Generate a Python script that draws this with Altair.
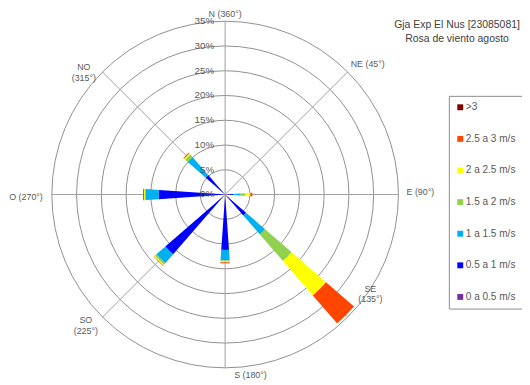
import math
import altair as alt
import pandas as pd

# ---------------- data ----------------
dir_angles = [90, 135, 180, 225, 270, 315]          # E, SE, S, SO, O, NO
speed_bins = ["0 a 0.5 m/s", "0.5 a 1 m/s", "1 a 1.5 m/s", "1.5 a 2 m/s",
              "2 a 2.5 m/s", "2.5 a 3 m/s", ">3"]
# frequency (%) of each speed class, per direction (same order as dir_angles)
f_0_05 = [0.5, 0.5, 1.0, 0.8, 0.5, 0.5]
f_05_1 = [1.1, 5.1, 10.2, 15.2, 12.9, 4.7]
f_1_15 = [1.4, 5.1, 2.1, 2.4, 2.6, 4.8]
f_15_2 = [1.0, 7.1, 0.2, 0.4, 0.2, 0.7]
f_2_25 = [1.1, 9.2, 0.2, 0.2, 0.2, 0.3]
f_25_3 = [0.4, 7.5, 0.2, 0.1, 0.2, 0.2]
f_gt3 = [0.0, 0.0, 0.0, 0.0, 0.0, 0.0]
bin_colors = ["#7030A0", "#0000FF", "#00B0F0", "#92D050", "#FFFF00", "#FF4500", "#7F0000"]

ring_pct = [0, 5, 10, 15, 20, 25, 30, 35]
ring_text = ["0%", "5%", "10%", "15%", "20%", "25%", "30%", "35%"]
spoke_angles = [0, 45, 90, 135, 180, 225, 270, 315]
compass_text = ["N (360°)", "NE (45°)", "E (90°)", "SE\n(135°)",
                "S (180°)", "SO\n(225°)", "O (270°)", "NO\n(315°)"]
title_lines = ["Gja Exp El Nus [23085081]", "Rosa de viento agosto"]

# ---------------- layout ----------------
W, H = 522, 377            # whole drawing area (page minus top/left margin)
CX, CY = 220.5, 186.5      # rose centre inside drawing area (px)
R = 176                    # px radius of the 35 % ring
RMAX = 35
UNIT = R / RMAX
HALF_W = 4                 # half angular width of a petal (deg)
# first-line positions of compass labels, px offsets from rose centre
compass_off = [(0, -183.5), (144.8, -132.8), (198.3, -2.2), (147.5, 95.5),
               (25.7, 183.5), (-141.5, 127.8), (-202.2, 2.5), (-143.5, -129.5)]
title_pos = (456, 14)      # px in drawing area (first line)

xdom = [-CX / UNIT, (W - CX) / UNIT]
ydom = [-(H - CY) / UNIT, CY / UNIT]
xs = alt.Scale(domain=xdom, nice=False, zero=False)
ys = alt.Scale(domain=ydom, nice=False, zero=False)
ts = alt.Scale(domain=[0, 360], range=[0, 2 * math.pi])
rs = alt.Scale(type="linear", domain=[0, RMAX], range=[0, R], zero=True, nice=False)

# ---------------- tables ----------------
series = [f_0_05, f_05_1, f_1_15, f_15_2, f_2_25, f_25_3, f_gt3]
rows = []
for i, a in enumerate(dir_angles):
    cum = 0.0
    for b, s in zip(speed_bins, series):
        v = s[i]
        if v > 0:
            rows.append(dict(cx=0, cy=0, t0=a - HALF_W, t1=a + HALF_W,
                             r_in=cum, r_out=cum + v, bin=b))
        cum += v
petals = pd.DataFrame(rows)

rings = pd.DataFrame(dict(cx=0, cy=0, r=ring_pct[1:]))
spokes = pd.DataFrame(dict(
    cx=0, cy=0,
    ex=[RMAX * math.sin(math.radians(a)) for a in spoke_angles],
    ey=[RMAX * math.cos(math.radians(a)) for a in spoke_angles]))
rlab = pd.DataFrame(dict(cx=0, r=ring_pct, t=ring_text))
clab = pd.DataFrame(dict(
    x=[o[0] / UNIT for o in compass_off],
    y=[-o[1] / UNIT for o in compass_off],
    t=compass_text))
tlab = pd.DataFrame(dict(
    x=[(title_pos[0] - CX) / UNIT],
    y=[(CY - title_pos[1]) / UNIT],
    t=["\n".join(title_lines)]))

FONT = "Liberation Sans"
RING = "#8f8f8f"
SPOKE = "#a0a0a0"
TXT = "#595959"

X0 = alt.X("cx:Q", scale=xs, axis=None)
Y0 = alt.Y("cy:Q", scale=ys, axis=None)

ring_layer = alt.Chart(rings).mark_arc(filled=False, stroke=RING, strokeWidth=1).encode(
    x=X0, y=Y0,
    radius=alt.Radius("r:Q", scale=rs, stack=None),
    theta=alt.value(0), theta2=alt.value(2 * math.pi + 0.001))

spoke_layer = alt.Chart(spokes).mark_rule(color=SPOKE, strokeWidth=1).encode(
    x=X0, y=Y0, x2="ex:Q", y2="ey:Q")

legend_domain = list(reversed(speed_bins))
legend_range = list(reversed(bin_colors))

petal_layer = alt.Chart(petals).mark_arc(stroke=None).encode(
    x=X0, y=Y0,
    theta=alt.Theta("t0:Q", scale=ts, stack=None),
    theta2="t1:Q",
    radius=alt.Radius("r_out:Q", scale=rs, stack=None),
    radius2="r_in:Q",
    color=alt.Color("bin:N",
                    scale=alt.Scale(domain=legend_domain, range=legend_range),
                    legend=alt.Legend(
                        title=None, orient="none", legendX=447.7, legendY=86.3,
                        direction="vertical", symbolType="square", symbolSize=36,
                        symbolStrokeWidth=0, labelFont=FONT, labelFontSize=10.2,
                        labelColor=TXT, labelOffset=0.5, rowPadding=21.1,
                        padding=6.5, strokeColor="#8c8c8c", fillColor="white",
                        labelLimit=200)))

rlab_layer = alt.Chart(rlab).mark_text(
    align="right", baseline="middle", dx=-11, font=FONT, fontSize=10, color=TXT).encode(
    x=alt.X("cx:Q", scale=xs, axis=None),
    y=alt.Y("r:Q", scale=ys, axis=None),
    text="t:N")

clab_layer = alt.Chart(clab).mark_text(
    align="center", baseline="middle", lineBreak="\n", lineHeight=11,
    font=FONT, fontSize=9, color=TXT).encode(
    x=alt.X("x:Q", scale=xs, axis=None),
    y=alt.Y("y:Q", scale=ys, axis=None),
    text="t:N")

title_layer = alt.Chart(tlab).mark_text(
    align="center", baseline="middle", lineBreak="\n", lineHeight=15,
    font=FONT, fontSize=10.6, color="#404040").encode(
    x=alt.X("x:Q", scale=xs, axis=None),
    y=alt.Y("y:Q", scale=ys, axis=None),
    text="t:N")

chart = alt.layer(ring_layer, spoke_layer, petal_layer, rlab_layer,
                  clab_layer, title_layer).properties(
    width=W, height=H, padding=0,
    autosize=alt.AutoSizeParams(type="none"),
    background="white").configure_view(stroke=None)

chart.save("out.html", embed_options={"renderer": "svg", "actions": False})
